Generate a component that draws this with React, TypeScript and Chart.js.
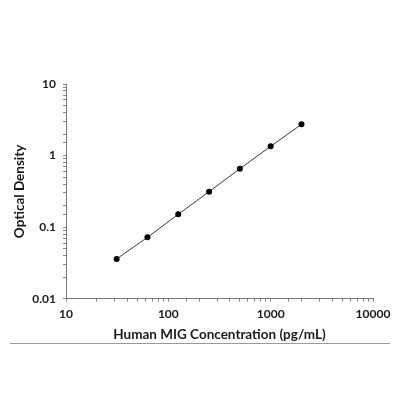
import { useEffect, useRef } from "react";
import { Chart, registerables } from "chart.js";

Chart.register(...registerables);

// standard curve values
const concentrations = [31.25, 62.5, 125, 250, 500, 1000, 2000];
const opticalDensity = [0.036, 0.072, 0.151, 0.313, 0.655, 1.346, 2.73];
const xTickLabels = ["10", "100", "1000", "10000"];
const yTickLabels = ["0.01", "0.1", "1", "10"];

const FONT = "Lato, 'Open Sans', sans-serif";

// thin grey rule under the chart, drawn before the text
const rulePlugin = {
  id: "bottomRule",
  beforeDraw(chart: Chart) {
    const { ctx } = chart;
    ctx.save();
    ctx.strokeStyle = "#9a9a9a";
    ctx.lineWidth = 1;
    ctx.beginPath();
    ctx.moveTo(10, 343.5);
    ctx.lineTo(390, 343.5);
    ctx.stroke();
    ctx.restore();
  },
};

function pickLabel(labels: string[], value: number) {
  const hit = labels.find((l) => Math.abs(Number(l) - value) < 1e-9 * Number(l));
  return hit ?? "";
}

export default function App() {
  const canvasRef = useRef<HTMLCanvasElement | null>(null);

  useEffect(() => {
    document.body.style.margin = "0";
    const canvas = canvasRef.current;
    if (!canvas) return;

    const chart = new Chart(canvas, {
      type: "line",
      data: {
        datasets: [
          {
            data: concentrations.map((c, i) => ({ x: c, y: opticalDensity[i] })),
            borderColor: "#3a3a3a",
            borderWidth: 1,
            pointRadius: 3,
            pointBackgroundColor: "#000",
            pointBorderColor: "#000",
            pointBorderWidth: 0,
            tension: 0,
          },
        ],
      },
      options: {
        responsive: true,
        maintainAspectRatio: false,
        animation: false,
        layout: { padding: { top: 84, right: 27, bottom: 57, left: 0 } },
        plugins: {
          legend: { display: false },
          tooltip: { enabled: false },
        },
        scales: {
          x: {
            type: "logarithmic",
            min: 10,
            max: 10000,
            afterFit: (scale: any) => {
              scale.height = 44.3;
            },
            border: { display: true, color: "#777", width: 1 },
            grid: {
              drawOnChartArea: false,
              drawTicks: true,
              tickLength: 3,
              color: "#888",
            },
            ticks: {
              autoSkip: false,
              maxRotation: 0,
              padding: 5,
              color: "#1a1a1a",
              font: { family: FONT, size: 12, weight: "bold" },
              callback: (v: any) => pickLabel(xTickLabels, Number(v)),
            },
            title: {
              display: true,
              text: "Human MIG Concentration (pg/mL)",
              color: "#1a1a1a",
              font: { family: FONT, size: 13.5, weight: "bold" },
              padding: { top: 0, bottom: 0 },
            },
          },
          y: {
            type: "logarithmic",
            min: 0.01,
            max: 10,
            afterFit: (scale: any) => {
              scale.width = 66;
            },
            border: { display: true, color: "#777", width: 1 },
            grid: {
              drawOnChartArea: false,
              drawTicks: true,
              tickLength: 3,
              color: "#888",
            },
            ticks: {
              autoSkip: false,
              padding: 7,
              color: "#1a1a1a",
              font: { family: FONT, size: 12, weight: "bold" },
              callback: (v: any) => pickLabel(yTickLabels, Number(v)),
            },
            title: {
              display: true,
              text: "Optical Density",
              color: "#1a1a1a",
              font: { family: FONT, size: 13.5, weight: "bold" },
              padding: { top: 12, bottom: 0 },
            },
          },
        },
      },
      plugins: [rulePlugin],
    });

    return () => {
      chart.destroy();
    };
  }, []);

  return (
    <div style={{ position: "relative", width: 400, height: 400, background: "#fff" }}>
      <canvas ref={canvasRef}></canvas>
    </div>
  );
}
